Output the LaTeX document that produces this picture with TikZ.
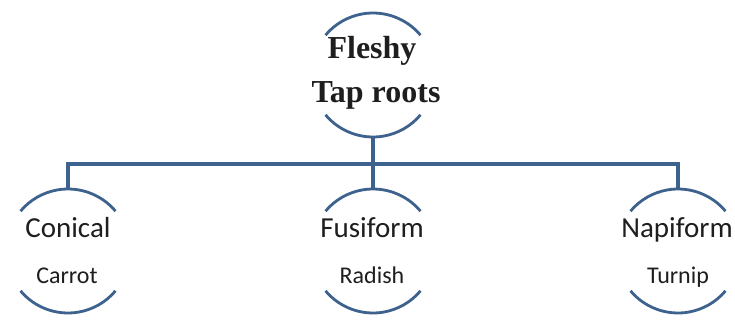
\documentclass[tikz,border=0pt]{standalone}
\usepackage{fontspec}
\setmainfont{Liberation Serif}
\newfontfamily\calib{Carlito}
\definecolor{linec}{RGB}{62,98,142}
\definecolor{txtc}{RGB}{30,30,30}
\begin{document}
\begin{tikzpicture}[x=1pt,y=1pt,
  ring/.style={circle,minimum size=124pt,inner sep=0pt,outer sep=0pt},
  conn/.style={draw=linec,line width=3.2pt},
  arcline/.style={draw=linec,line width=2.8pt},
  toptext/.style={anchor=base,font=\fontsize{32}{32}\selectfont\bfseries,text=txtc,inner sep=0pt},
  maintext/.style={anchor=base,font=\calib\fontsize{29}{29}\selectfont,text=txtc,inner sep=0pt},
  subtext/.style={anchor=base,font=\calib\fontsize{24}{24}\selectfont,text=txtc,inner sep=0pt}]
\useasboundingbox[fill=white] (0,0) rectangle (735,330);
\node[ring] (top) at (373,255) {};
\node[ring] (left) at (68,79) {};
\node[ring] (mid) at (373,79) {};
\node[ring] (right) at (678,79) {};
\coordinate (bar) at (373,166);
% arcs
\foreach \n in {top,left,mid,right}{
  \draw[arcline] (\n.40) arc[start angle=40,end angle=140,radius=62pt];
  \draw[arcline] (\n.220) arc[start angle=220,end angle=320,radius=62pt];
}
% connectors
\draw[conn] (top.south) -- (mid.north);
\draw[conn] (left.north) -- (left.north |- bar) -- (right.north |- bar) -- (right.north);
% texts
\node[toptext] (t1) at (372,272) {Fleshy};
\node[toptext] (t2) at (376,228) {Tap roots};
\node[maintext] (l1) at (68,93) {Conical};
\node[subtext] (l2) at (67,47) {Carrot};
\node[maintext] (m1) at (372,93) {Fusiform};
\node[subtext] (m2) at (372,47) {Radish};
\node[maintext] (r1) at (677,93) {Napiform};
\node[subtext] (r2) at (678,47) {Turnip};
\end{tikzpicture}
\end{document}
